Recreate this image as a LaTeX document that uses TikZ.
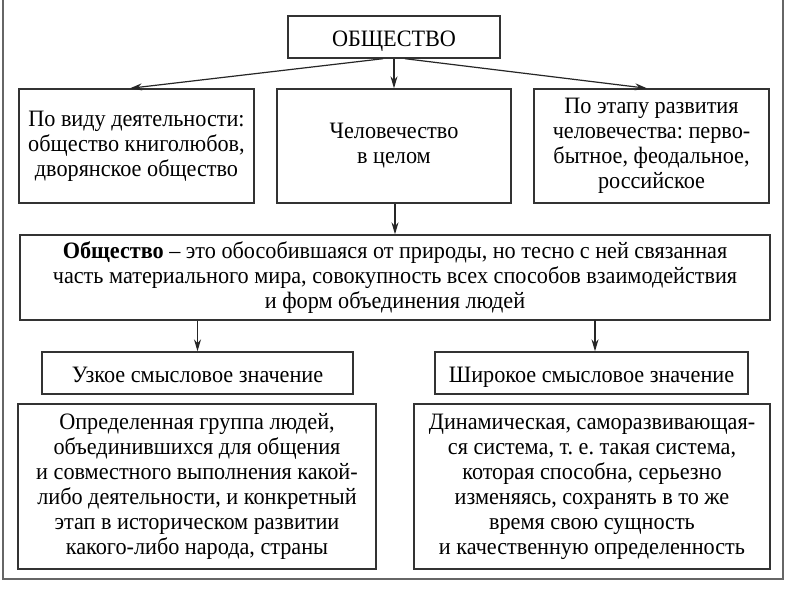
\documentclass[tikz,border=0pt]{standalone}
\usepackage{fontspec}
\setmainfont[FakeStretch=0.945]{Liberation Serif}
\usetikzlibrary{arrows.meta}
\frenchspacing
\tikzset{
  box/.style={draw=black!80, line width=1.4pt, align=center, inner sep=0pt, font=\fontsize{23.5}{25}\selectfont},
  oneline/.style={text height=19pt, text depth=0pt},
  arr/.style={-{Stealth[length=12pt,width=7pt]}, line width=1.2pt, draw=black!85},
}
\begin{document}
\begin{tikzpicture}[x=1pt,y=-1pt]
\useasboundingbox (0,0) rectangle (800,600);
\fill[white] (0,0) rectangle (800,600);
\draw[black!60, line width=2.2pt] (3,-5) -- (3,579) -- (783,579) -- (783,-5);

\node[box, oneline, minimum width=212pt, minimum height=42pt] (top) at (394,37) {ОБЩЕСТВО};
\node[box, minimum width=235pt, minimum height=114pt] (left) at (136.5,146) {По виду деятельности:\\общество книголюбов,\\дворянское общество};
\node[box, minimum width=234pt, minimum height=114pt] (mid) at (394,146) {Человечество\\в целом};
\node[box, minimum width=235pt, minimum height=114pt] (right) at (651.5,146) {По этапу развития\\человечества: перво-\\бытное, феодальное,\\российское};
\node[box, minimum width=750pt, minimum height=85pt] (def) at (395,277.5) {\textbf{Общество} – это обособившаяся от природы, но тесно с ней связанная\\часть материального мира, совокупность всех способов взаимодействия\\и форм объединения людей};
\node[box, oneline, minimum width=311pt, minimum height=42pt] (narrow) at (197.5,373) {Узкое смысловое значение};
\node[box, oneline, minimum width=313pt, minimum height=42pt] (wide) at (591.5,373) {Широкое смысловое значение};
\node[box, minimum width=358pt, minimum height=165pt] (nbody) at (197,486.5) {Определенная группа людей,\\объединившихся для общения\\и совместного выполнения какой-\\либо деятельности, и конкретный\\этап в историческом развитии\\какого-либо народа, страны};
\node[box, minimum width=356pt, minimum height=165pt] (wbody) at (592,486.5) {Динамическая, саморазвивающая-\\ся система, т.\ е.\ такая система,\\которая способна, серьезно\\изменяясь, сохранять в то же\\время свою сущность\\и качественную определенность};

\coordinate (tl) at ([xshift=-11pt]top.south);
\coordinate (tr) at ([xshift=11pt]top.south);
\draw[arr] (tl) -- ([xshift=-6.5pt]left.north);
\draw[arr] (top.south) -- (mid.north);
\draw[arr] (tr) -- ([xshift=-4.5pt]right.north);
\draw[arr] ([xshift=1pt]mid.south) -- ([xshift=1pt]mid.south |- def.north);
\draw[arr] (narrow.north |- def.south) -- (narrow.north);
\coordinate (dw) at (595,320);
\draw[arr] (dw) -- (dw |- wide.north);
\end{tikzpicture}
\end{document}
